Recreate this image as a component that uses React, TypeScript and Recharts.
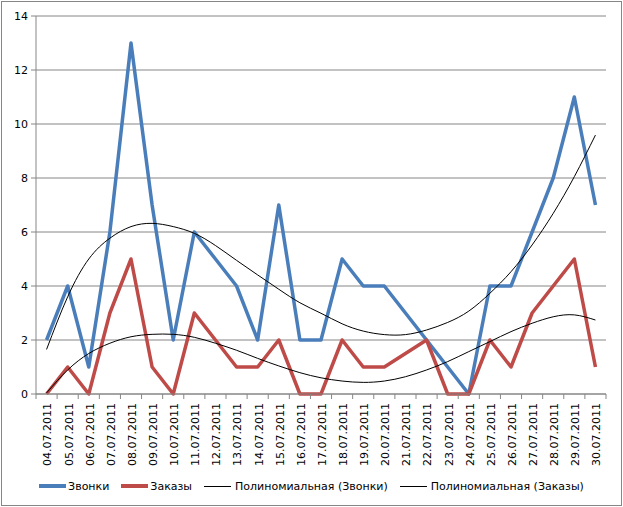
import React from "react";
import { LineChart, Line, XAxis, YAxis, CartesianGrid, Legend } from "recharts";

const dates = [
  "04.07.2011", "05.07.2011", "06.07.2011", "07.07.2011", "08.07.2011", "09.07.2011",
  "10.07.2011", "11.07.2011", "12.07.2011", "13.07.2011", "14.07.2011", "15.07.2011",
  "16.07.2011", "17.07.2011", "18.07.2011", "19.07.2011", "20.07.2011", "21.07.2011",
  "22.07.2011", "23.07.2011", "24.07.2011", "25.07.2011", "26.07.2011", "27.07.2011",
  "28.07.2011", "29.07.2011", "30.07.2011",
];

// Звонки
const calls = [2, 4, 1, 6, 13, 7, 2, 6, 5, 4, 2, 7, 2, 2, 5, 4, 4, 3, 2, 1, 0, 4, 4, 6, 8, 11, 7];
// Заказы
const orders = [0, 1, 0, 3, 5, 1, 0, 3, 2, 1, 1, 2, 0, 0, 2, 1, 1, 1.5, 2, 0, 0, 2, 1, 3, 4, 5, 1];

// trend curves
const callsTrend = [
  1.65, 3.6, 5.0, 5.77, 6.2, 6.32, 6.2, 5.95, 5.5, 4.95, 4.41, 3.88, 3.38, 2.99,
  2.6, 2.33, 2.2, 2.2, 2.37, 2.65, 3.07, 3.73, 4.53, 5.52, 6.69, 8.05, 9.59,
];
const ordersTrend = [
  0.04, 0.89, 1.5, 1.88, 2.12, 2.21, 2.21, 2.1, 1.88, 1.62, 1.32, 1.04, 0.79, 0.6,
  0.48, 0.43, 0.48, 0.64, 0.89, 1.2, 1.57, 1.94, 2.31, 2.62, 2.86, 2.93, 2.74,
];

const yTicks = [0, 2, 4, 6, 8, 10, 12, 14];

const seriesNames = ["Звонки", "Заказы", "Полиномиальная (Звонки)", "Полиномиальная (Заказы)"];

const data = dates.map((d, i) => ({
  date: d,
  calls: calls[i],
  orders: orders[i],
  callsTrend: callsTrend[i],
  ordersTrend: ordersTrend[i],
}));

const FONT = "'DejaVu Sans', Verdana, sans-serif";
const GRID = "#868686";
const W = 623;
const H = 507;
const PLOT_LEFT = 36;
const PLOT_RIGHT = 606;
const BAND = (PLOT_RIGHT - PLOT_LEFT) / dates.length;

const DateTick = (props: any) => {
  const { x, y, payload, index } = props;
  const axisY = y - 8;
  return (
    <g>
      <line x1={x - BAND / 2} y1={axisY} x2={x - BAND / 2} y2={axisY + 5} stroke={GRID} />
      {index === dates.length - 1 && (
        <line x1={x + BAND / 2} y1={axisY} x2={x + BAND / 2} y2={axisY + 5} stroke={GRID} />
      )}
      <text
        transform={`translate(${x + 1},${axisY + 9}) rotate(-90)`}
        textAnchor="end"
        dy="0.35em"
        fontSize={11}
        fontFamily={FONT}
        fill="#000"
      >
        {payload.value}
      </text>
    </g>
  );
};

const LegendContent = (props: any) => {
  const items = [...(props.payload || [])].sort(
    (a: any, b: any) => seriesNames.indexOf(a.value) - seriesNames.indexOf(b.value)
  );
  return (
    <div
      style={{
        display: "flex",
        justifyContent: "center",
        alignItems: "center",
        height: 20,
        fontFamily: FONT,
        fontSize: 11,
        color: "#000",
      }}
    >
      {items.map((it: any) => {
        const thin = String(it.value).startsWith("Полиномиальная");
        return (
          <div key={it.value} style={{ display: "flex", alignItems: "center", margin: "0 6px" }}>
            <div
              style={{
                width: 27,
                height: thin ? 1 : 4,
                background: it.color,
                marginRight: thin ? 4 : 2,
              }}
            />
            <span>{it.value}</span>
          </div>
        );
      })}
    </div>
  );
};

export default function App() {
  return (
    <div style={{ position: "absolute", left: 0, top: 0, width: W, height: H, background: "#fff" }}>
      <div
        style={{
          position: "absolute",
          left: 1,
          top: 1,
          width: 621,
          height: 505,
          border: `1px solid ${GRID}`,
          boxSizing: "border-box",
        }}
      />
      <LineChart
        width={W}
        height={H}
        data={data}
        margin={{ top: 16, right: W - PLOT_RIGHT, left: 0, bottom: 0 }}
      >
        <CartesianGrid vertical={false} stroke={GRID} />
        <XAxis
          dataKey="date"
          interval={0}
          height={H - 394}
          padding={{ left: BAND / 2, right: BAND / 2 }}
          tickLine={false}
          axisLine={{ stroke: GRID }}
          tick={<DateTick />}
        />
        <YAxis
          type="number"
          domain={[0, 14]}
          ticks={yTicks}
          width={PLOT_LEFT}
          tickSize={5}
          tickMargin={3}
          axisLine={{ stroke: GRID }}
          tickLine={{ stroke: GRID }}
          tick={{ fontSize: 11, fontFamily: FONT, fill: "#000" }}
        />
        <Legend
          layout="horizontal"
          verticalAlign="middle"
          align="center"
          content={<LegendContent />}
          wrapperStyle={{ top: 476, left: 0, width: W }}
        />
        <Line
          type="linear"
          dataKey="calls"
          name="Звонки"
          stroke="#4A7EBB"
          strokeWidth={3.5}
          strokeLinejoin="round"
          dot={false}
          isAnimationActive={false}
        />
        <Line
          type="linear"
          dataKey="orders"
          name="Заказы"
          stroke="#BE4B48"
          strokeWidth={3.5}
          strokeLinejoin="round"
          dot={false}
          isAnimationActive={false}
        />
        <Line
          type="natural"
          dataKey="callsTrend"
          name="Полиномиальная (Звонки)"
          stroke="#000"
          strokeWidth={1}
          dot={false}
          isAnimationActive={false}
        />
        <Line
          type="natural"
          dataKey="ordersTrend"
          name="Полиномиальная (Заказы)"
          stroke="#000"
          strokeWidth={1}
          dot={false}
          isAnimationActive={false}
        />
      </LineChart>
    </div>
  );
}
